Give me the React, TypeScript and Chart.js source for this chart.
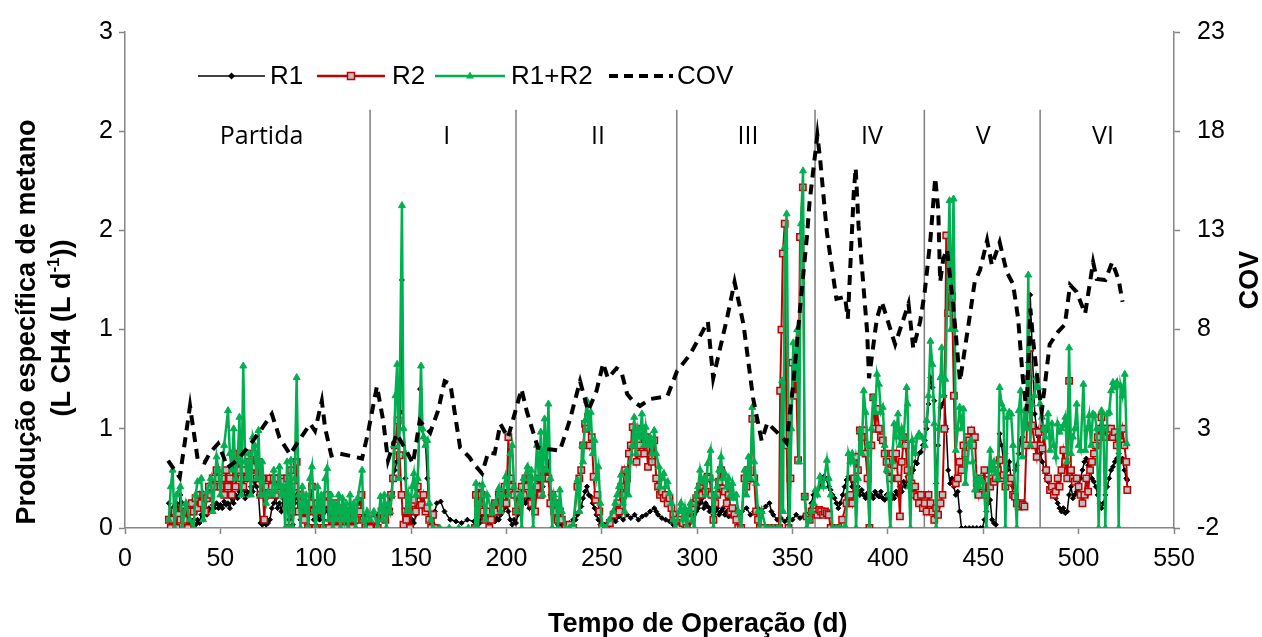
import React, { useEffect, useRef } from "react";
import { Chart, registerables } from "chart.js";

Chart.register(...registerables);

// ---------- axis / tick labels ----------
const leftTickLabels = ["0", "1", "1", "2", "2", "3"];
const rightTickLabels = ["-2", "3", "8", "13", "18", "23"];

// ---------- phases ----------
const phaseNames = ["Partida", "I", "II", "III", "IV", "V", "VI"];
const phaseLabelDays = [71.6, 168.7, 248.0, 326.6, 391.6, 449.9, 512.8];
const phaseBoundaries = [128.5, 205.0, 289.3, 361.8, 419.1, 479.8];
const phaseLineTop = 2.53;
const phaseLabelLevel = 2.32;

// ---------- series: [day, value] ----------
const R1: [number, number][] = [
  [23,0.15],[24,0.05],[25,0.12],[26,0.02],[27,0.15],[28,0.1],[29,0.2],[30,0.15],[31,0.05],[32,0.1],[33,0.02],[34,0.05],[35,0],[36,0.05],[37,0.02],[38,0.05],[39,0.03],[40,0.08],[41,0.05],[42,0.1],[43,0.08],[44,0.12],[45,0.1],[46,0.14],[47,0.12],[48,0.15],[49,0.12],[50,0.14],[51,0.12],[52,0.16],[53,0.14],[54,0.15],[55,0.12],[56,0.18],[57,0.15],[58,0.2],[59,0.18],[60,0.22],[61,0.2],[62,0.25],[63,0.18],[64,0.22],[65,0.2],[66,0.25],[67,0.22],[68,0.28],[69,0.25],[70,0.2],[71,0.03],[72,0.02],[73,0.03],[74,0.02],[75,0.03],[76,0.05],[77,0.12],[78,0.15],[79,0.18],[80,0.12],[81,0.15],[82,0.1],[83,0.18],[84,0.2],[85,0.15],[86,0.05],[87,0.1],[88,0.02],[89,0.15],[90,0.2],[91,0.1],[92,0.05],[93,0.12],[94,0.08],[95,0.05],[96,0.02],[97,0.1],[98,0.15],[99,0.05],[100,0.02],[101,0.08],[102,0.05],[103,0.1],[104,0.05],[105,0.1],[106,0.15],[107,0.05],[108,0.1],[109,0.05],[110,0.12],[111,0.05],[112,0.08],[113,0.02],[114,0.1],[115,0.05],[116,0.08],[117,0.03],[118,0.1],[119,0.05],[120,0.08],[121,0.03],[122,0.1],[123,0.15],[124,0.18],[125,0.08],[126,0.05],[127,0.03],
  [128.5,0.02],[130.5,0.05],[131.5,0.02],[132.5,0.08],[133.5,0.05],[134.5,0.1],[135.5,0.05],[136.5,0.12],[137.5,0.1],[138.5,0.15],[139.5,0.2],[140.5,0.3],[141.5,0.35],[142.5,0.4],[143.5,0.45],[144.5,0.7],[145.2,1.5],[146,0.6],[147,0.3],[147.5,0.1],[148.5,0.05],[149.5,0.02],[150.5,0.05],[151.5,0.03],[152.5,0.08],[153.5,0.2],[154.7,0.84],[155.5,0.6],[156.5,0.55],[157.5,0.53],[158.5,0.3],[159.5,0.1],[160.5,0.05],[162.5,0.1],[163.5,0.15],[165.5,0.16],[167.5,0.1],[170.5,0.05],[173.5,0.04],[176.5,0.03],[179.5,0.05],[183,0.04],
  [184,0.05],[185,0.1],[186,0.03],[187,0.08],[188,0.05],[189,0.1],[190,0.06],[191,0.03],[192,0.05],[193,0.08],[194,0.04],[195,0.06],[196,0.05],[197,0.08],[198,0.1],[199,0.12],[200,0.17],[201,0.1],[202,0.05],[203,0.02],[204,0.05],[205,0.03],[206,0.08],[207,0.1],[208,0.15],[209,0.2],[210,0.15],[211,0.18],[212,0.12],[213,0.2],[214,0.15],[215,0.25],[216,0.2],[217,0.22],[218,0.3],[219,0.25],[220,0.35],[221,0.3],[222,0.4],[223,0.2],[224,0.15],[225,0.1],[226,0.05],[227,0.02],[228,0.05],[229,0.02],[231,0],[233,0.03],[235,0.05],
  [236.2,0.05],[237.2,0.08],[238.2,0.1],[239.2,0.13],[240.2,0.18],[241.2,0.22],[242.2,0.25],[243.2,0.2],[244.2,0.19],[245.2,0.15],[246.2,0.12],[247.2,0.08],[248.2,0.05],[249.2,0.02],[250.2,0],[251.2,0.02],[253.2,0.03],[254.2,0.05],[256.2,0.06],[257.2,0.04],[259.2,0.07],[261.2,0.05],[263.2,0.08],[265.2,0.06],[267.2,0.08],[269.2,0.05],[271.2,0.07],[273.2,0.08],[275.3,0.1],[277.5,0.12],[278.5,0.1],[279.5,0.08],[281.5,0.06],[283.5,0.05],[285.5,0.04],[287.5,0.02],[288.5,0],
  [290.5,0],[291.5,0.01],[293.5,0],[295.5,0.02],[297.5,0.05],[298.5,0.08],[299.5,0.1],[300.5,0.12],[301.5,0.15],[302.5,0.18],[303.5,0.12],[304.5,0.15],[305.5,0.13],[306.5,0.1],[307.5,0.12],[308.5,0.08],[309.5,0.1],[310.5,0.12],[311.5,0.08],[312.5,0.1],[313.5,0.12],[314.5,0.08],[315.5,0.1],[316.5,0.07],[317.5,0.1],[318.5,0.08],[319.5,0.12],[320.5,0.1],[321.5,0.08],[323.5,0.1],[325.9,0.12],[327.9,0.08],[329.9,0.1],[331.9,0.12],[333.9,0.1],[335.9,0.13],[337.9,0.15],[338.9,0.1],[339.9,0.08],[341.9,0.05],[343.9,0.06],[345.9,0.04],[347.9,0.06],[349.9,0.05],[351.9,0.08],[353.9,0.06],[355.9,0.07],[357.9,0.08],[358.9,0.09],[359.9,0.15],[360.9,0.2],[361.9,0.22],[362.9,0.2],[364.4,0.25],[365.4,0.28],[366.4,0.31],[367.4,0.3],[369,0.25],[370,0.23],[371,0.2],[372,0.18],[373,0.15],[374,0.12],[375,0.15],
  [376.3,0.2],[377.3,0.25],[378.3,0.29],[379.3,0.31],[380.3,0.3],[381.3,0.25],[382.3,0.28],[383.3,0.22],[384.3,0.25],[385.3,0.2],[386.3,0.23],[387.3,0.2],[388.3,0.18],[389.3,0.21],[390.3,0.19],[391.3,0.2],[392.3,0.18],[393.3,0.22],[394.3,0.2],[395.3,0.19],[396.3,0.22],[397.3,0.18],[398.3,0.17],[399.3,0.2],[400.3,0.18],[401.3,0.17],[402.3,0.2],[403.3,0.18],[404.3,0.22],[405.3,0.2],[406.3,0.25],[407.3,0.22],[408.3,0.28],[409.3,0.25],[410.3,0.31],[411.3,0.28],[412.3,0.33],[413.3,0.35],[414.3,0.4],[415.3,0.39],[416.3,0.45],[417.3,0.46],[418.3,0.5],[419.3,0.53],[420.3,0.6],[421.3,0.75],[422.3,0.91],[423.3,0.85],[424.3,0.77],[425.3,0.27],[426.3,0.5],
  [427.6,0.73],[428.6,0.75],[429.6,0.8],[430.6,0.6],[431.6,0.35],[432.6,0.27],[433.6,0.3],[434.6,0.25],[435.6,0.2],[436.6,0.22],[437.6,0.1],[438.6,0],[440.6,0],[442.6,0],[444.6,0],[446.6,0],[448.6,0],[449.6,0],[450.6,0.05],[451.6,0.1],[452.6,0.15],[453.6,0.17],[454.6,0.05],[455.6,0.03],[456.6,0.02],[457.6,0.3],[458.6,0.57],[459.6,0.5],[460.6,0.41],[461.6,0.45],[462.6,0.35],[463.6,0.4],[464.6,0.3],[465.6,0.25],[466.6,0.35],[467.6,0.38],[468.6,0.45],[469.6,0.53],[470.6,0.55],[471.6,0.61],[472.6,0.7],[473.6,1.0],[474.6,1.41],[475.6,1.1],
  [477,0.69],[478,0.6],[479,0.55],[480,0.45],[481,0.4],[482,0.35],[483,0.3],[484,0.28],[485,0.25],[486,0.22],[487,0.2],[488,0.18],[489,0.15],[490,0.12],[491,0.1],[492,0.12],[493,0.09],[494,0.1],[495,0.2],[496,0.25],[497,0.18],[498,0.2],[499,0.22],[500,0.25],[501,0.3],[502,0.35],[503,0.4],[504,0.42],[505,0.38],[506,0.35],[507,0.3],[508,0.28],[509,0.25],[510,0.2],[511,0.15],[512,0.12],[513,0.15],[514,0.2],[515,0.25],[516,0.3],[517,0.35],[518,0.37],[519,0.4],[520,0.42],[521,0.45],[522,0.4],[523,0.42],[524,0.35],[525,0.3],[525.5,0.29],
];

const R2: [number, number][] = [
  [23,0.05],[24,0],[25,0.05],[26,0.1],[27,0],[28,0.08],[29,0.05],[30,0.12],[31,0.05],[32,0.1],[33,0],[34,0.1],[35,0.15],[36,0.1],[37,0.18],[38,0.12],[39,0.2],[40,0.15],[41,0.2],[42,0.1],[43,0.18],[44,0.25],[45,0.2],[46,0.3],[47,0.25],[48,0.35],[49,0.3],[50,0.25],[51,0.3],[52,0.2],[53,0.35],[54,0.25],[55,0.3],[56,0.2],[57,0.45],[58,0.25],[59,0.35],[60,0.4],[61,0.3],[62,0.25],[63,0.35],[64,0.3],[65,0.4],[66,0.35],[67,0.45],[68,0.37],[69,0.3],[70,0.4],[71,0.2],[72,0.3],[73,0.05],[74,0.25],[75,0.2],[76,0.3],[77,0.25],[78,0.3],[79,0.2],[80,0.3],[81,0.25],[82,0.3],[83,0.28],[84,0.2],[85,0.3],[86,0],[87,0.35],[88,0.1],[89,0.25],[90,0.4],[91,0.1],[92,0.2],[93,0.15],[94,0.05],[95,0.12],[96,0],[97,0.15],[98,0.25],[99,0.1],[100,0],[101,0.15],[102,0.1],[103,0.12],[104,0],[105,0.15],[106,0.2],[107,0],[108,0.1],[109,0.05],[110,0.15],[111,0],[112,0.1],[113,0.05],[114,0.12],[115,0],[116,0.1],[117,0.05],[118,0.1],[119,0],[120,0.08],[121,0.05],[122,0.12],[123,0.1],[124,0.2],[125,0.05],[126,0],[127,0.05],
  [128.5,0],[130.5,0.05],[132.5,0],[134.5,0.1],[136.5,0.05],[138.5,0.1],[139.5,0.2],[140.5,0.3],[141.5,0.5],[143,0.65],[144,0.44],[145,0.2],[146,0.02],[147,0.1],[147.5,0.05],[148.5,0.1],[149.5,0],[150.5,0.15],[151.5,0.17],[152.5,0.1],[153.5,0.25],[154.5,0.2],[155.5,0.14],[156.5,0.2],[157.5,0.1],[158.5,0.12],[159.5,0.05],[160.5,0],[161.5,0.08],[162.5,0],[183.5,0],
  [184,0.2],[185,0.15],[186,0.25],[187,0.2],[188,0.1],[189,0.05],[190,0.1],[191,0],[192,0.05],[193,0.1],[194,0.15],[195,0.1],[196,0.2],[197,0.12],[198,0.15],[199,0.25],[200,0.15],[201,0.55],[202,0.3],[203,0.25],[204,0.2],[205,0.1],[206,0.2],[207,0.15],[208,0.25],[209,0.2],[210,0.3],[211,0.25],[212,0.3],[213,0.15],[214,0.22],[215,0.1],[216,0.25],[217,0.3],[218,0.2],[219,0.35],[220,0.3],[221,0.3],[222,0.3],[223,0.15],[224,0.2],[225,0.1],[226,0.15],[227,0.05],[228,0.1],[229,0.05],[231,0],[233,0.02],[235,0],
  [237.2,0.25],[238.2,0.3],[239.2,0.35],[240.2,0.5],[241.2,0.63],[241.7,0.6],[242.7,0.67],[243.7,0.5],[244.7,0.55],[245.7,0.31],[246.7,0.17],[247.7,0.2],[248.7,0.1],[250.2,0],[252.2,0],[254.2,0.03],[256.2,0.08],[258.2,0.15],[259.2,0.1],[260.2,0.25],[261.2,0.2],[262.2,0.35],[263.2,0.3],[264.2,0.45],[265.2,0.5],[266.2,0.61],[267.2,0.57],[268.2,0.4],[269.2,0.45],[270.2,0.5],[271.2,0.6],[272.2,0.45],[273.2,0.55],[274.2,0.37],[275.3,0.53],[276.3,0.4],[277.5,0.53],[278.5,0.3],[279.5,0.25],[280.5,0.2],[281.5,0.22],[282.5,0.18],[283.5,0.2],[284.5,0.15],[285.5,0.18],[286.5,0.12],[287.5,0.08],[288.5,0.05],
  [290.5,0],[291.5,0.05],[292.5,0.03],[293.5,0.08],[294.5,0],[295.5,0.1],[296.5,0.05],[297.5,0.12],[298.5,0.15],[299.5,0.18],[300.5,0.2],[301.5,0.25],[302.5,0.2],[303.5,0.28],[304.5,0.22],[305.5,0.31],[306.5,0.3],[307.5,0.2],[308.5,0.05],[309.5,0.15],[310.5,0.2],[311.5,0.28],[312.5,0.35],[313.5,0.24],[314.5,0.22],[315.5,0.15],[316.5,0.2],[317.5,0.1],[318.5,0.12],[319.5,0.08],[320.5,0.05],[321.5,0],[323,0],[324.8,0.3],[325.8,0.25],[326.9,0.35],[327.9,0.3],[328.9,0.66],[329.9,0.3],[330.9,0.1],[331.9,0.05],[332.9,0],[335,0],[337,0],[339,0],[341,0],[342.9,0],[343.5,0.83],[344.2,1.2],[344.9,1.66],[345.9,1.84],[346.9,0.5],[347.9,0],[348.9,0.3],[349.9,1.0],[350.9,0.8],[351.9,0.9],[352.9,0.41],[353.9,1.76],[355.4,2.06],[356.4,0.19],[357.4,0.07],[359,0.05],[360,0.1],[361,0.12],[362,0.1],[363,0.08],[364,0.11],[365,0.1],[366,0.08],[367,0.1],[368,0.09],[369,0.08],[370,0],[372,0],[374,0],[376,0.05],
  [378.3,0.15],[379.3,0.19],[380.3,0.2],[381.3,0.15],[382.3,0.3],[383.3,0.43],[384.3,0.35],[385.3,0.59],[386.3,0.55],[387.3,0.59],[388.3,0.45],[389.3,0.3],[390.3,0],[391.3,0.5],[392.3,0.79],[393.3,0.6],[394.3,0.72],[395.3,0.6],[396.3,0.55],[397.3,0.53],[398.3,0.45],[399.3,0.4],[400.3,0.35],[401.3,0.3],[402.3,0.45],[403.3,0.38],[404.3,0.45],[405.3,0.3],[406.3,0.07],[407.3,0.4],[408.3,0.55],[409.3,0.5],[410.3,0.35],[411.3,0.3],[412.3,0.27],[413.3,0.2],[414.3,0.25],[415.3,0.19],[416.3,0.15],[417.3,0.2],[418.3,0.12],[419.3,0.15],[420.3,0.1],[421.3,0.2],[422.3,0.15],[423.3,0.1],[424.3,0.05],[425.3,0.12],[426.3,0.08],
  [427.6,0.15],[428.6,0.2],[429.6,0.6],[430.6,1.77],[431.6,1.3],[432.6,1.42],[433.6,1.4],[434.6,0.8],[435.6,0.27],[436.6,0.3],[437.6,0.4],[438.6,0.35],[439.6,0.5],[440.6,0.45],[441.6,0.55],[442.6,0.53],[443.6,0.59],[444.6,0.5],[445.6,0.55],[446.6,0.27],[447.6,0.2],[448.6,0.3],[449.6,0.25],[450.6,0.35],[451.6,0.2],[452.6,0.29],[453.6,0.25],[454.6,0.3],[455.6,0.28],[456.6,0.3],[457.6,0.35],[458.6,0.41],[459.6,0.3],[460.6,0.32],[461.6,0.25],[462.6,0.3],[463.6,0.28],[464.6,0.3],[465.6,0.2],[466.6,0.19],[467.6,0.15],[468.6,0.13],[469.6,0.15],[470.6,0.14],[471.6,0.13],[472.6,0.5],[473.6,0.9],[474.6,1.09],[475.6,0.62],
  [477,0.5],[478,0.43],[479,0.58],[480,0.5],[481,0.48],[482,0.6],[483,0.35],[484,0.3],[485,0.23],[486,0.25],[487,0.2],[488,0.22],[489,0.3],[490,0.25],[491,0.35],[492,0.47],[493,0.4],[494,0.3],[495,0.89],[496,0.35],[497,0.3],[498,0.28],[499,0.3],[500,0.25],[501,0.2],[502,0.15],[503,0.2],[504,0.3],[505,0.22],[506,0.35],[507,0.4],[508,0.45],[509,0.5],[510,0.55],[511,0.6],[512,0.67],[513,0.6],[514,0.55],[515,0.6],[516,0.58],[517,0.6],[518,0.55],[519,0.58],[520,0.5],[521,0.55],[522,0.52],[523,0.6],[524,0.5],[525,0.4],[525.5,0.23],
];

const R12: [number, number][] = [
  [23,0.05],[24,0.25],[25,0.35],[26,0],[27,0.2],[29,0.25],[30,0],[32,0.15],[34,0.05],[36,0],[37,0.2],[38,0.28],[40,0.3],[41,0.05],[43,0.22],[45,0.3],[46,0.1],[48,0.43],[49,0.35],[50,0.2],[52,0.5],[54,0.71],[55,0.45],[56,0.35],[57,0.6],[58,0.3],[59,0.4],[60,0.67],[61,0.2],[62,0.98],[63,0.4],[64,0.3],[65,0.45],[66,0.2],[67,0.55],[68,0.5],[69,0.3],[70,0.59],[71,0.2],[72,0.4],[73,0.2],[74,0.15],[75,0.22],[77,0.2],[78,0.35],[79,0.22],[80,0.25],[81,0.37],[82,0.2],[83,0.25],[84,0],[85,0.4],[86,0],[87,0.41],[88,0],[89,0.3],[90,0.91],[91,0.2],[92,0],[93,0.25],[94,0.1],[95,0.2],[96,0],[97,0.3],[98,0.37],[99,0.1],[100,0],[101,0.25],[102,0.1],[103,0.2],[104,0],[105,0.3],[106,0.36],[107,0.05],[108,0.2],[109,0],[110,0.15],[111,0.05],[112,0.2],[113,0],[114,0.18],[115,0.05],[116,0.15],[117,0],[118,0.2],[119,0.05],[120,0.15],[121,0],[122,0.18],[124.3,0.35],[125,0.05],[126,0],[127,0.1],
  [128.5,0.05],[130.5,0.1],[132.5,0],[134,0.19],[135,0.05],[136,0.2],[137,0],[138,0.15],[139,0.1],[140,0.2],[141,0.5],[141.8,0.8],[142.7,0.99],[143.5,0.3],[145.2,1.95],[146,0.6],[147,0.45],[147.6,0.1],[148.5,0.2],[149.5,0.1],[150.5,0.25],[151.5,0.33],[152.5,0.2],[153.5,0.3],[155.2,0.98],[156,0.6],[156.6,0.55],[157.5,0.5],[158.5,0.53],[159.5,0.15],[160.5,0.05],[161.5,0],[165,0],[170,0],[175,0],[180,0],[183.5,0],
  [184,0.27],[185,0],[186,0.15],[187.4,0.26],[189,0.05],[190,0.2],[192.5,0.09],[194,0.15],[196,0.24],[197,0.1],[198,0.2],[199.5,0.31],[201,0.2],[202,0.45],[203,0.5],[204,0.25],[205,0.1],[207,0.2],[208,0],[209,0.3],[211,0.37],[212,0.2],[213,0.35],[214,0],[215,0.3],[216,0.5],[217,0.3],[218,0.58],[219,0.2],[220,0.66],[221,0.35],[222,0.75],[223,0.3],[224,0],[225,0.2],[226,0.15],[227,0],[228,0.23],[229,0.1],[231,0],[233,0],[235,0.02],
  [237.2,0.29],[238.2,0.1],[239.7,0.5],[240.2,0.4],[241.2,0.65],[242.2,0.77],[243.2,0.6],[244.2,0.7],[245.2,0.45],[246.2,0.53],[247.2,0.3],[248.2,0.37],[249.2,0.15],[250.2,0.02],[252,0],[254,0.05],[256,0.1],[257,0.15],[258,0.2],[259,0.25],[260,0.32],[261,0.15],[262,0.1],[263,0.35],[264,0.2],[265,0.4],[266,0.5],[267,0.67],[268,0.45],[269,0.6],[270,0.55],[271,0.69],[272,0.5],[273,0.61],[274,0.5],[275.3,0.55],[276.3,0.45],[277.5,0.59],[278.5,0.45],[280,0.37],[280.5,0.25],[281.5,0.3],[282.5,0.33],[283.5,0.25],[284.5,0.28],[285.5,0.21],[286.5,0.15],[287.5,0.05],[288.5,0],
  [290.5,0.1],[291.5,0.15],[292.5,0.05],[293.5,0.12],[294.5,0],[295.5,0.1],[296.5,0.15],[297.5,0.05],[298.5,0],[299.5,0.2],[300.5,0.25],[301.5,0.35],[302.5,0.28],[303.5,0.3],[304.5,0.2],[305.5,0.39],[307,0.47],[307.5,0.3],[308.5,0],[309.5,0.2],[310.5,0.25],[311.5,0.35],[312.5,0.43],[313.5,0.3],[314.5,0.33],[315.5,0.25],[316.5,0.3],[317.5,0.2],[318.5,0.27],[319.5,0.18],[320.5,0.2],[321.5,0.1],[323,0],[324.8,0.35],[325.8,0.2],[326.9,0.43],[327.9,0.3],[328.9,0.73],[329.9,0.4],[330.9,0.27],[331.9,0.1],[332.9,0],[333.9,0.1],[336,0],[338,0],[340,0],[342,0],[343.5,0],[344.5,0.89],[345,0.1],[345.9,1.7],[346.9,1.9],[348.4,0],[349.4,0.6],[350.4,1.12],[351.4,0.9],[352.4,1.2],[353.4,0.4],[354.4,1.84],[355.5,2.16],[356.4,0.19],[357.4,0],[359,0.05],[360,0.1],[361,0.15],[362,0.23],[363,0.2],[364.4,0.31],[366,0.25],[368,0.41],[369,0.3],[370,0.2],[371,0],[373,0],[375,0],[377,0],[378,0],
  [379.3,0.45],[380.3,0.4],[381.3,0.45],[382.3,0.4],[383.3,0],[384.3,0.3],[385.3,0.59],[386.3,0.45],[387.3,0.83],[388.3,0.7],[389.3,0.5],[390.3,0],[391.3,0.6],[392.3,0.79],[393.3,0.7],[394.3,0.93],[395.3,0.87],[396.3,0.7],[397.3,0.73],[398.3,0.5],[399.3,0.35],[400.3,0.2],[401.3,0],[402.3,0.4],[403.3,0.63],[404.3,0.55],[405.3,0.69],[406.3,0.5],[407.3,0.6],[408.3,0.55],[409.8,0.85],[410.3,0.75],[411.1,0.25],[411.8,0],[412.8,0.53],[414.3,0.45],[415.3,0.55],[416.3,0.57],[417.8,0.55],[419.3,0.5],[420.3,0.65],[421.3,0.8],[422.3,1.13],[423.3,0.99],[424.3,0.63],[425.3,0],[426.5,0.6],
  [427.6,0.91],[428.2,1.09],[429.1,0.8],[430.1,0.9],[432.3,1.98],[433,1.2],[434.4,1.99],[435.1,1.2],[435.6,0.47],[436.6,0.6],[437.6,0.73],[438.6,0.6],[439.6,0.72],[440.6,0.27],[441.6,0.4],[442.6,0.51],[443.6,0.53],[444.6,0.4],[445.6,0.23],[446.6,0.3],[447.6,0.25],[448.6,0.3],[449.6,0.28],[450.6,0.2],[451.6,0],[453.6,0.47],[454.6,0.35],[455.6,0.4],[456.6,0.33],[457.6,0.3],[458.6,0.85],[459.6,0.75],[460.6,0.72],[461.6,0],[462.6,0.67],[463.6,0.7],[464.6,0.69],[465.6,0.5],[467.6,0],[468.6,0.71],[469.6,0.83],[470.6,0.43],[471.6,0.71],[472.6,0.6],[473.6,1.53],[474.6,0.5],[475.6,0.75],
  [476.8,0.8],[477.8,0.91],[478.8,0.85],[479.8,0.75],[480.8,0.67],[481.6,0.6],[482.5,0.55],[484,0.69],[485,0.47],[486,0.63],[487,0.5],[488,0.43],[489,0.63],[490,0.58],[491,0.6],[492,0.62],[493,0.67],[494,0.4],[495,1.09],[496,0.45],[497,0.55],[498,0.6],[499,0.75],[500,0.5],[501,0.47],[502.5,0.87],[503.5,0.47],[504.5,0.6],[505.5,0.68],[506.5,0.5],[507.5,0.69],[508.5,0.68],[509.5,0.6],[510.5,0],[512,0.71],[513,0.6],[514,0],[515,0.69],[516,0.7],[517,0.83],[518,0.88],[519,0.85],[520,0.88],[521,0],[522,0.86],[523,0.8],[524.2,0.93],[525.2,0.51],
];

const COV: [number, number][] = [
  [22.6,1.4],[28.7,0.55],[34.1,4.15],[35.2,3.4],[38.2,1.4],[41.8,1.3],[44.6,1.8],[48.8,2.25],[51.4,1.65],[53.8,1.05],[58.6,1.4],[63.9,2.0],[71,2.9],[77,3.75],[81,2.55],[86.6,1.7],[90.1,2.25],[97.1,3.25],[99.6,2.9],[103.2,4.4],[104.9,3.05],[108.2,1.65],[112.7,1.75],[124.3,1.5],[127.3,2.75],[132.1,5.15],[135.4,3.4],[137.9,1.4],[142.4,2.75],[146.9,2.0],[151,1.25],[154.5,3.4],[160,2.8],[164.1,3.9],[167.6,5.4],[170.6,5.25],[175.7,2.05],[180.7,1.55],[182.7,1.25],[187.2,0.75],[190.4,1.8],[193.8,1.75],[196.8,3.25],[200.8,2.55],[207.9,5.0],[210.6,3.9],[216.5,2.05],[228,1.9],[233.1,3.4],[238.6,5.4],[242.8,3.9],[247.2,4.9],[250.7,6.3],[253.2,5.55],[257.7,6.05],[260.2,5.9],[263.3,4.75],[266.3,4.4],[270,4.15],[275.3,4.5],[284.4,4.65],[289.4,5.9],[296.3,6.75],[305.6,8.4],[308.4,5.55],[315.6,8.55],[319.6,10.4],[324.3,8.25],[329.3,4.55],[333.8,2.4],[336.8,3.3],[344.8,2.55],[346.8,2.3],[350.4,5.25],[353.9,9.05],[357.6,12.75],[358.9,14.4],[363,17.8],[364.5,16.55],[368,12.9],[373,9.55],[377.5,9.65],[379,8.55],[382.1,14.9],[383.1,16.15],[384.6,13.25],[389.1,7.9],[390.1,5.55],[394.2,8.55],[396.8,9.4],[403.8,7.25],[410.8,9.3],[413.3,7.05],[416.9,8.4],[419.3,9.9],[422.3,12.55],[424.8,15.65],[426.4,14.05],[427.4,10.4],[429,11.55],[431,12.05],[434.2,9.25],[437.8,5.4],[443.1,8.8],[445.5,10.4],[448.3,11.0],[452,12.5],[454.5,11.25],[458.6,12.4],[462.3,10.9],[465.6,10.3],[468.3,8.55],[470.7,5.55],[472.7,3.9],[474.7,9.05],[476.2,7.4],[478.7,5.25],[480.7,3.9],[484.8,7.25],[489.3,7.9],[492.8,8.25],[495.5,10.25],[498.9,9.9],[503.4,8.8],[507.6,11.4],[509.5,10.55],[514,10.5],[517.6,11.4],[521,10.5],[523,9.4],
];

// ---------- styles ----------
const FONT = '"Liberation Sans", Arial, sans-serif';
const AXIS_GRAY = "#868686";
const GREEN = "#00B050";
const RED = "#C00000";

const toXY = (arr: [number, number][]) => arr.map(([x, y]) => ({ x, y }));

function drawMarker(ctx: CanvasRenderingContext2D, kind: string, x: number, y: number) {
  ctx.save();
  if (kind === "diamond") {
    ctx.fillStyle = "#000";
    ctx.beginPath();
    ctx.moveTo(x, y - 3.5);
    ctx.lineTo(x + 3.5, y);
    ctx.lineTo(x, y + 3.5);
    ctx.lineTo(x - 3.5, y);
    ctx.closePath();
    ctx.fill();
  } else if (kind === "square") {
    ctx.fillStyle = "#BFBFBF";
    ctx.strokeStyle = RED;
    ctx.lineWidth = 1.5;
    ctx.fillRect(x - 3.5, y - 3.5, 7, 7);
    ctx.strokeRect(x - 3.5, y - 3.5, 7, 7);
  } else if (kind === "triangle") {
    ctx.fillStyle = GREEN;
    ctx.beginPath();
    ctx.moveTo(x, y - 4.5);
    ctx.lineTo(x + 4, y + 2.5);
    ctx.lineTo(x - 4, y + 2.5);
    ctx.closePath();
    ctx.fill();
  }
  ctx.restore();
}

const legendItems = [
  { text: "R1", color: "#000", width: 1.5, marker: "diamond", dash: [] as number[], x0: 198, x1: 265, tx: 270 },
  { text: "R2", color: RED, width: 2.5, marker: "square", dash: [] as number[], x0: 317, x1: 385, tx: 392 },
  { text: "R1+R2", color: GREEN, width: 2.5, marker: "triangle", dash: [] as number[], x0: 435, x1: 505, tx: 511 },
  { text: "COV", color: "#000", width: 4, marker: "", dash: [9, 6], x0: 609, x1: 673, tx: 677 },
];

const annotationPlugin = {
  id: "annotations",
  beforeDatasetsDraw(chart: any) {
    const { ctx, scales } = chart;
    const x = scales.x;
    const y = scales.y;
    ctx.save();
    ctx.strokeStyle = "#7F7F7F";
    ctx.lineWidth = 1.5;
    for (const d of phaseBoundaries) {
      const px = x.getPixelForValue(d);
      ctx.beginPath();
      ctx.moveTo(px, y.getPixelForValue(phaseLineTop));
      ctx.lineTo(px, y.getPixelForValue(0));
      ctx.stroke();
    }
    ctx.restore();
  },
  afterDraw(chart: any) {
    const { ctx, scales } = chart;
    const x = scales.x;
    const y = scales.y;
    ctx.save();
    // phase labels
    ctx.fillStyle = "#000";
    ctx.font = '25px "Open Sans", "Noto Sans", sans-serif';
    ctx.textAlign = "center";
    ctx.textBaseline = "alphabetic";
    phaseNames.forEach((n, i) => {
      ctx.fillText(n, x.getPixelForValue(phaseLabelDays[i]), y.getPixelForValue(phaseLabelLevel));
    });

    // legend
    const ly = 76;
    for (const it of legendItems) {
      ctx.save();
      ctx.strokeStyle = it.color;
      ctx.lineWidth = it.width;
      ctx.setLineDash(it.dash);
      ctx.beginPath();
      ctx.moveTo(it.x0, ly);
      ctx.lineTo(it.x1, ly);
      ctx.stroke();
      ctx.restore();
      if (it.marker) drawMarker(ctx, it.marker, (it.x0 + it.x1) / 2, ly);
      ctx.fillStyle = "#000";
      ctx.font = `26px ${FONT}`;
      ctx.textAlign = "left";
      ctx.textBaseline = "middle";
      ctx.fillText(it.text, it.tx, ly + 1);
    }

    // x axis title
    ctx.font = `bold 27px ${FONT}`;
    ctx.textAlign = "left";
    ctx.textBaseline = "alphabetic";
    ctx.fillText("Tempo de Operação (d)", 548, 632);

    // right axis title
    ctx.save();
    ctx.translate(1251, 280);
    ctx.rotate(-Math.PI / 2);
    ctx.textAlign = "center";
    ctx.textBaseline = "middle";
    ctx.font = `bold 27px ${FONT}`;
    ctx.fillText("COV", 0, 0);
    ctx.restore();

    // left axis title (two lines)
    ctx.save();
    ctx.translate(28, 322);
    ctx.rotate(-Math.PI / 2);
    ctx.textAlign = "center";
    ctx.textBaseline = "middle";
    ctx.font = `bold 27px ${FONT}`;
    ctx.fillText("Produção específica de metano", 0, 0);
    ctx.restore();

    ctx.save();
    ctx.translate(63, 328);
    ctx.rotate(-Math.PI / 2);
    ctx.textBaseline = "middle";
    ctx.textAlign = "left";
    const parts = [
      { t: "(L CH4 (L d", f: `bold 27px ${FONT}`, dy: 0 },
      { t: "-1", f: `bold 17px ${FONT}`, dy: -9 },
      { t: "))", f: `bold 27px ${FONT}`, dy: 0 },
    ];
    let total = 0;
    for (const p of parts) { ctx.font = p.f; total += ctx.measureText(p.t).width; }
    let cx = -total / 2;
    for (const p of parts) {
      ctx.font = p.f;
      ctx.fillText(p.t, cx, p.dy);
      cx += ctx.measureText(p.t).width;
    }
    ctx.restore();

    ctx.restore();
  },
};

export default function App() {
  const ref = useRef<HTMLCanvasElement | null>(null);

  useEffect(() => {
    if (!ref.current) return;
    Chart.defaults.font.family = FONT;
    Chart.defaults.color = "#000";
    const chart = new Chart(ref.current, {
      type: "line",
      data: {
        datasets: [
          {
            label: "COV",
            data: toXY(COV),
            yAxisID: "y1",
            borderColor: "#000",
            backgroundColor: "#000",
            borderWidth: 4,
            borderDash: [10, 7],
            pointRadius: 0,
            tension: 0,
            order: 0,
          },
          {
            label: "R1+R2",
            data: toXY(R12),
            yAxisID: "y",
            borderColor: GREEN,
            backgroundColor: GREEN,
            borderWidth: 2.5,
            pointStyle: "triangle",
            pointRadius: 4,
            pointBorderWidth: 1,
            pointBorderColor: GREEN,
            pointBackgroundColor: GREEN,
            tension: 0,
            order: 1,
          },
          {
            label: "R2",
            data: toXY(R2),
            yAxisID: "y",
            borderColor: RED,
            backgroundColor: "#BFBFBF",
            borderWidth: 2,
            pointStyle: "rect",
            pointRadius: 4.5,
            pointBorderWidth: 1.5,
            pointBorderColor: RED,
            pointBackgroundColor: "#BFBFBF",
            tension: 0,
            order: 2,
          },
          {
            label: "R1",
            data: toXY(R1),
            yAxisID: "y",
            borderColor: "#000",
            backgroundColor: "#000",
            borderWidth: 1.5,
            pointStyle: "rectRot",
            pointRadius: 2.5,
            pointBorderWidth: 1,
            pointBackgroundColor: "#000",
            tension: 0,
            order: 3,
          },
        ],
      },
      options: {
        animation: false,
        responsive: false,
        devicePixelRatio: 1,
        events: [],
        layout: { padding: { top: 27, left: 0, right: 0, bottom: 0 } },
        plugins: {
          legend: { display: false },
          tooltip: { enabled: false },
          title: { display: false },
        },
        scales: {
          x: {
            type: "linear",
            min: 0,
            max: 550,
            ticks: {
              stepSize: 50,
              font: { size: 25, family: FONT },
              color: "#000",
              padding: 10,
              maxRotation: 0,
              autoSkip: false,
              callback: (v: any) => String(v),
            },
            grid: { drawOnChartArea: false, drawTicks: true, tickLength: 6, color: AXIS_GRAY, tickWidth: 1.5 },
            border: { color: AXIS_GRAY, width: 1.5 },
            afterFit: (s: any) => { s.height = 109; },
          },
          y: {
            type: "linear",
            position: "left",
            min: 0,
            max: 3,
            ticks: {
              stepSize: 0.6,
              font: { size: 25, family: FONT },
              color: "#000",
              padding: 6,
              autoSkip: false,
              callback: (_v: any, i: number) => leftTickLabels[i] ?? "",
            },
            grid: { drawOnChartArea: false, drawTicks: true, tickLength: 6, color: AXIS_GRAY, tickWidth: 1.5 },
            border: { color: AXIS_GRAY, width: 1.5 },
            afterFit: (s: any) => { s.width = 125; },
          },
          y1: {
            type: "linear",
            position: "right",
            min: -2,
            max: 23,
            ticks: {
              stepSize: 5,
              font: { size: 25, family: FONT },
              color: "#000",
              padding: 17,
              autoSkip: false,
              callback: (_v: any, i: number) => rightTickLabels[i] ?? "",
            },
            grid: { drawOnChartArea: false, drawTicks: true, tickLength: 6, color: AXIS_GRAY, tickWidth: 1.5 },
            border: { color: AXIS_GRAY, width: 1.5 },
            afterFit: (s: any) => { s.width = 88; },
          },
        },
      } as any,
      plugins: [annotationPlugin],
    });
    return () => chart.destroy();
  }, []);

  return (
    <canvas
      ref={ref}
      width={1262}
      height={637}
      style={{ position: "fixed", left: 0, top: 0, width: "1262px", height: "637px", background: "#fff" }}
    />
  );
}
